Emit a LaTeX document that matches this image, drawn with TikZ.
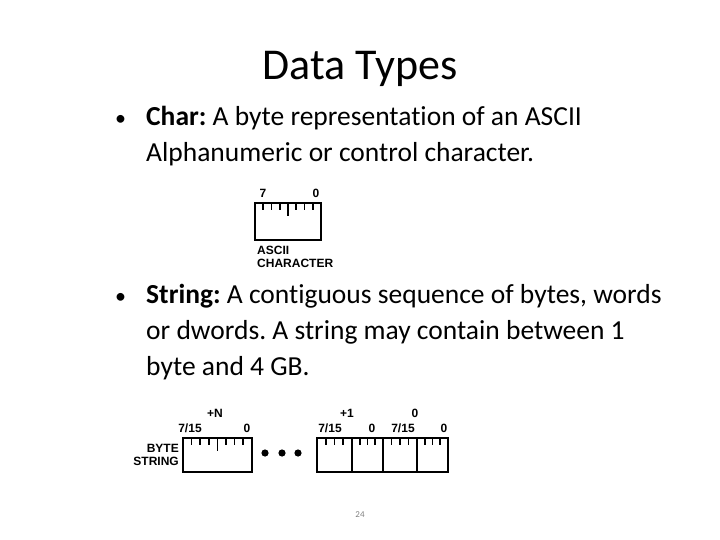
\documentclass[tikz,border=0pt]{standalone}
\usepackage{fontspec}
\setmainfont[Ligatures=NoCommon]{Carlito}
\newfontfamily\lab{Liberation Sans}
\frenchspacing
\begin{document}
\begin{tikzpicture}[x=1pt,y=-1pt,
  body/.style={anchor=base west,font=\fontsize{27.5}{30}\selectfont,inner sep=0},
  lbl/.style={font=\lab\bfseries\fontsize{12}{12.5}\selectfont,inner sep=0},
  rbox/.style={draw,line width=2.2pt},
  tick/.style={line width=1.6pt}]
\useasboundingbox (0,0) rectangle (720,540);
\node (title) at (360,69) {\fontsize{44}{48}\selectfont Data Types};
\node[body,font=\fontsize{22}{24}\selectfont] (b1) at (115,126) {•};
\node[body] (t1) at (146,126) {\textbf{Char:} A byte representation of an ASCII};
\node[body] (t1b) at (146,162) {Alphanumeric or control character.};
\node[body,font=\fontsize{22}{24}\selectfont] (b2) at (115,303) {•};
\node[body] (t2) at (146,303) {\textbf{String:} A contiguous sequence of bytes, words};
\node[body] (t2b) at (146,339) {or dwords. A string may contain between 1};
\node[body] (t2c) at (146,375) {byte and 4 GB.};
% char ruler
\draw[rbox] (255,203) rectangle (321,240);
\foreach \i in {1,...,7}{\draw[tick] (255+\i*8.25,203) -- ++(0,\ifnum\i=4 13\else 7\fi);}
\node[lbl] (c7) at (263,193) {7};
\node[lbl] (c0) at (316,193) {0};
\node[lbl,align=left,anchor=north west] (ac) at (257,246) {ASCII\\CHARACTER};
% string
\draw[rbox] (183,438) rectangle (252,472);
\foreach \i in {1,...,7}{\draw[tick] (183+\i*8.6,438) -- ++(0,\ifnum\i=4 13\else 7\fi);}
\draw[rbox] (317,438) rectangle (448,472);
\foreach \a/\b in {317/352,352/383,383/417,417/448}{
  \foreach \i in {1,2,3}{\draw[tick] ({\a+\i*(\b-\a)/4},438) -- ++(0,7);}}
\foreach \xx in {352,383,417}{\draw[line width=1.6pt] (\xx,438) -- (\xx,472);}
\foreach \xx in {265,282,298}{\fill (\xx,453) circle (3.6);}
\node[lbl,align=right,anchor=east] (bs) at (179,455) {BYTE\\STRING};
\node[lbl] (pn) at (215,413) {+N};
\node[lbl] (l1) at (190,428) {7/15};
\node[lbl] (l2) at (247,428) {0};
\node[lbl] (p1) at (347,413) {+1};
\node[lbl] (z1) at (415,413) {0};
\node[lbl] (l3) at (330,428) {7/15};
\node[lbl] (l4) at (372,428) {0};
\node[lbl] (l5) at (403,428) {7/15};
\node[lbl] (l6) at (444,428) {0};
\node[text=gray] (pg) at (360,515) {\fontsize{9}{10}\selectfont 24};
\end{tikzpicture}
\end{document}
